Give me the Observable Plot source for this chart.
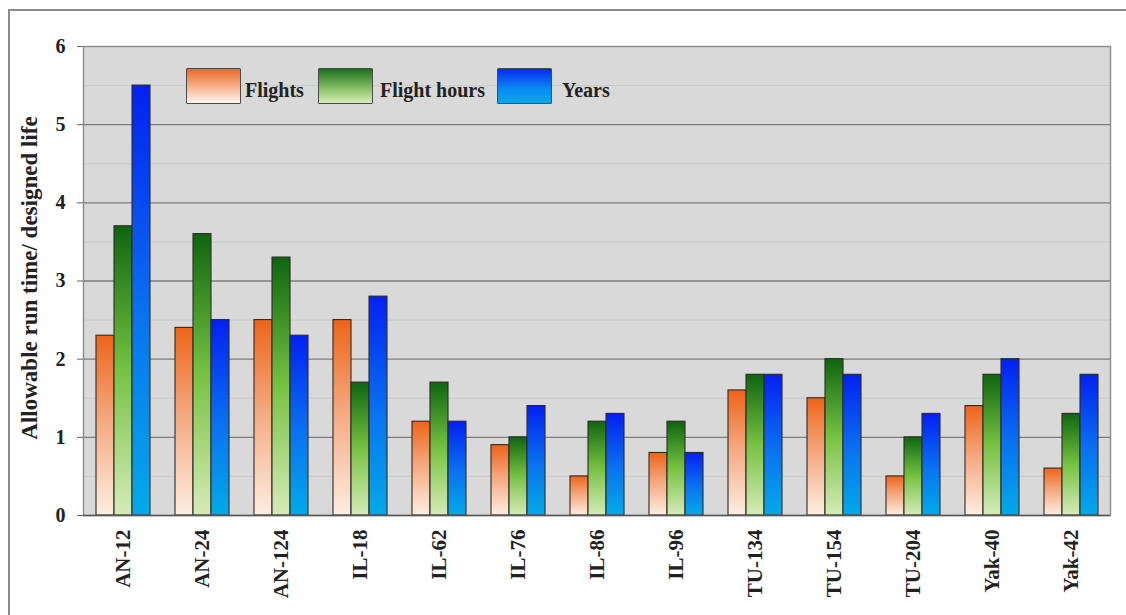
<!DOCTYPE html>
<html>
<head>
<meta charset="utf-8">
<script src="https://cdn.jsdelivr.net/npm/d3@7"></script>
<script src="https://cdn.jsdelivr.net/npm/@observablehq/plot@0.6"></script>
<style>
  html, body { margin: 0; padding: 0; background: #fff; }
  #wrap { position: relative; width: 1126px; height: 615px; overflow: hidden; font-family: "Liberation Serif", serif; }
  #border { position: absolute; left: 8px; top: 9px; width: 1130px; height: 620px; border-top: 2px solid #8c8c8c; border-left: 2px solid #8c8c8c; box-sizing: border-box; }
  #chart { position: absolute; left: 0; top: 0; }
  .ytitle { position: absolute; left: 30px; top: 278px; transform: translate(-50%, -50%) rotate(-90deg); white-space: nowrap; font-weight: bold; font-size: 23px; color: #222; }
  .sw { position: absolute; top: 68px; width: 53px; height: 34px; border: 1.5px solid #4a4a4a; border-radius: 1px; }
  .lt { position: absolute; top: 79px; font-weight: bold; font-size: 20px; color: #222; white-space: nowrap; }
</style>
</head>
<body>
<div id="wrap">
  <div id="border"></div>
  <div id="chart"></div>
  <div class="ytitle">Allowable run time/ designed life</div>
  <div class="sw" style="left:186px;background:linear-gradient(#ec6a22,#f7b694 55%,#fff6ee);"></div>
  <div class="lt" style="left:245px;">Flights</div>
  <div class="sw" style="left:318px;background:linear-gradient(#1e6e1e,#8cc46a 60%,#d8ecb8);"></div>
  <div class="lt" style="left:380px;">Flight hours</div>
  <div class="sw" style="left:497px;background:linear-gradient(#0a2af0,#0a8cf2 60%,#08a8ea);"></div>
  <div class="lt" style="left:562px;">Years</div>
</div>
<script>
const categories = ["AN-12","AN-24","AN-124","IL-18","IL-62","IL-76","IL-86","IL-96","TU-134","TU-154","TU-204","Yak-40","Yak-42"];
const series = ["Flights","Flight hours","Years"];
const flights     = [2.3, 2.4, 2.5, 2.5, 1.2, 0.9, 0.5, 0.8, 1.6, 1.5, 0.5, 1.4, 0.6];
const flightHours = [3.7, 3.6, 3.3, 1.7, 1.7, 1.0, 1.2, 1.2, 1.8, 2.0, 1.0, 1.8, 1.3];
const years       = [5.5, 2.5, 2.3, 2.8, 1.2, 1.4, 1.3, 0.8, 1.8, 1.8, 1.3, 2.0, 1.8];
const yTicks = [0, 1, 2, 3, 4, 5, 6];
const majorGrid = [1, 2, 3, 4, 5];
const minorGrid = [0.5, 1.5, 2.5, 3.5, 4.5, 5.5];

const valuesBySeries = [flights, flightHours, years];
const gradIds = ["gFlights", "gHours", "gYears"];
const rows = [];
series.forEach((s, si) => categories.forEach((c, ci) => rows.push({category: c, series: s, value: valuesBySeries[si][ci]})));

// every facet carries the full set of grid values so the lines run continuously
const gridRows = (vals) => categories.flatMap(c => vals.map(v => ({category: c, v})));

const barMarks = series.map((s, i) =>
  Plot.barY(rows.filter(d => d.series === s), {
    fx: "category", x: "series", y: "value",
    fill: `url(#${gradIds[i]})`, stroke: "#2e2a26", strokeWidth: 1.1
  })
);

const svg = Plot.plot({
  width: 1126,
  height: 615,
  marginLeft: 82,
  marginRight: 16,
  marginTop: 46,
  marginBottom: 100,
  style: {background: "transparent", overflow: "visible"},
  fx: {domain: categories, padding: 0, label: null},
  x: {domain: series, paddingInner: 0, paddingOuter: 0.58, axis: null},
  y: {domain: [0, 6], label: null},
  marks: [
    Plot.frame({facet: "super", fill: "#d9d9d9"}),
    Plot.ruleY(gridRows(minorGrid), {fx: "category", y: "v", stroke: "#c9c9c9", strokeWidth: 1}),
    Plot.ruleY(gridRows(majorGrid), {fx: "category", y: "v", stroke: "#7d7d7d", strokeWidth: 1.4}),
    ...barMarks,
    Plot.frame({facet: "super", stroke: "#8a8a8a", strokeWidth: 1.4}),
    Plot.ruleY(gridRows([0]), {fx: "category", y: "v", stroke: "#555", strokeWidth: 1.5}),
    Plot.axisY({ticks: yTicks, tickSize: 6, tickPadding: 12, tickFormat: d => String(d), fontSize: 20, fontWeight: "bold", fontFamily: "Liberation Serif", fill: "#222", stroke: "#666", label: null}),
    Plot.axisFx({anchor: "bottom", tickRotate: -90, tickSize: 0, tickPadding: 14, fontSize: 21, fontWeight: "bold", fontFamily: "Liberation Serif", fill: "#222", label: null})
  ]
});

d3.select(svg).insert("defs", ":first-child").html(`
  <linearGradient id="gFlights" x1="0" y1="0" x2="0" y2="1">
    <stop offset="0" stop-color="#ee6418"/>
    <stop offset="0.45" stop-color="#f4a67c"/>
    <stop offset="1" stop-color="#fdeee2"/>
  </linearGradient>
  <linearGradient id="gHours" x1="0" y1="0" x2="0" y2="1">
    <stop offset="0" stop-color="#0e650f"/>
    <stop offset="0.5" stop-color="#76c242"/>
    <stop offset="1" stop-color="#d6ebb8"/>
  </linearGradient>
  <linearGradient id="gYears" x1="0" y1="0" x2="0" y2="1">
    <stop offset="0" stop-color="#0320f2"/>
    <stop offset="0.55" stop-color="#0a74f0"/>
    <stop offset="1" stop-color="#02aae8"/>
  </linearGradient>
`);

document.getElementById("chart").appendChild(svg);
</script>
</body>
</html>
